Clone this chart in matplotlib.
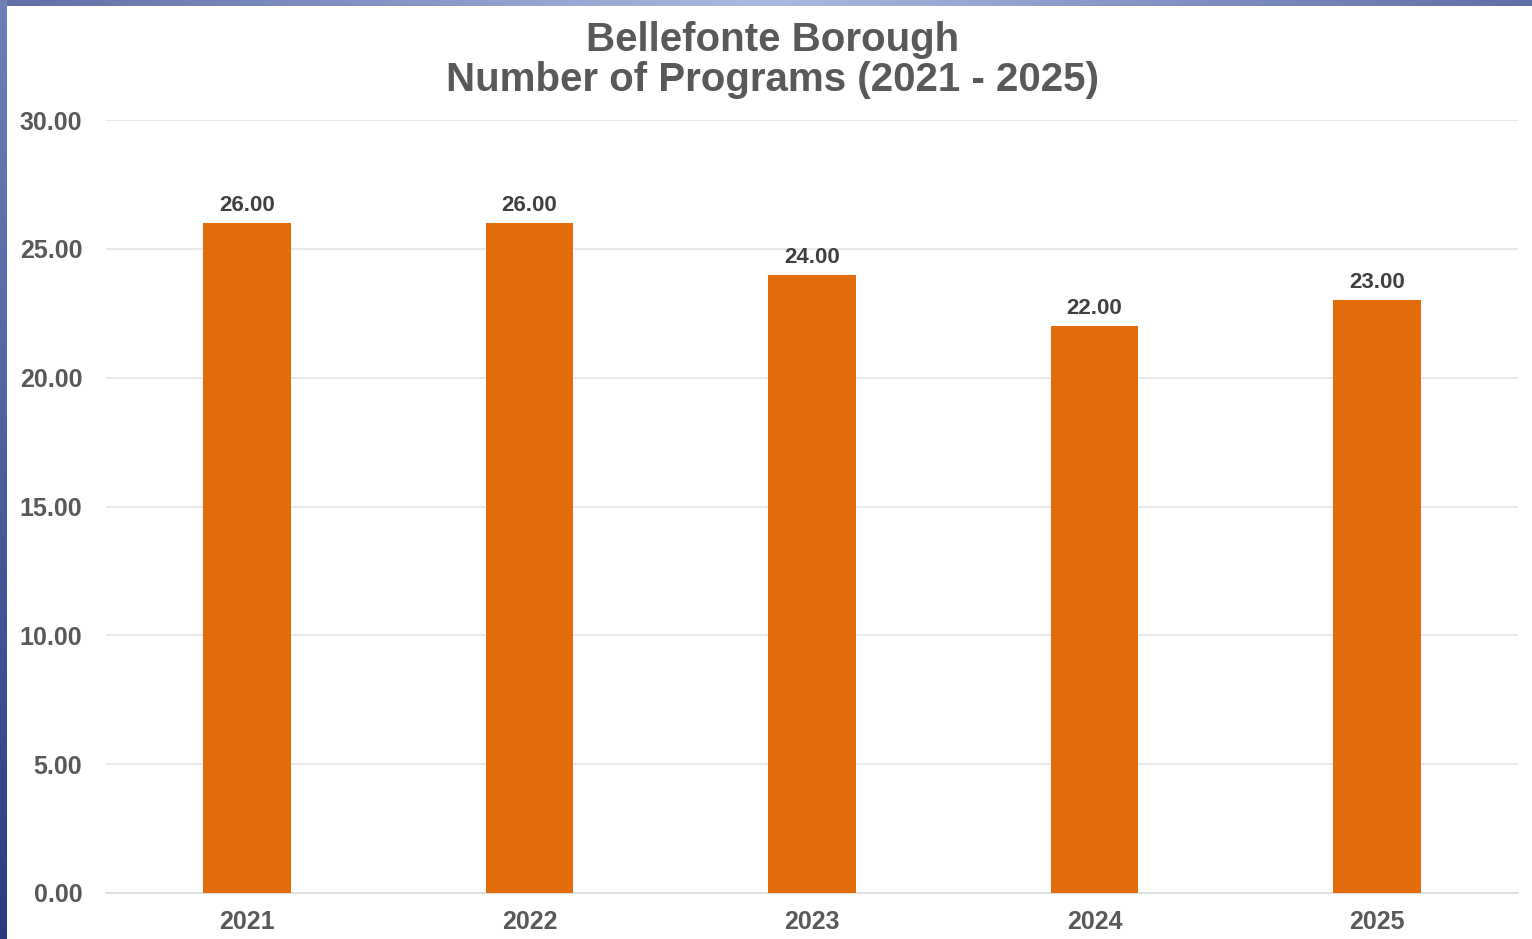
import numpy as np
import matplotlib
matplotlib.use('Agg')
import matplotlib.pyplot as plt
from matplotlib.colors import LinearSegmentedColormap

years = ['2021', '2022', '2023', '2024', '2025']
programs = [26, 26, 24, 22, 23]
yticks = [0, 5, 10, 15, 20, 25, 30]

plt.rcParams['font.family'] = ['Liberation Sans', 'DejaVu Sans']
plt.rcParams['font.weight'] = 'bold'

fig = plt.figure(figsize=(15.32, 9.39), dpi=100)
W, H = 1532, 939

# frame: gradient bars at top and left
top = fig.add_axes([0, 1 - 6 / H, 1, 6 / H])
top_cmap = LinearSegmentedColormap.from_list('top', ['#5f6fa7', '#a9bbe2', '#5f6fa7'])
top.imshow(np.linspace(0, 1, 256)[None, :], aspect='auto', cmap=top_cmap)
top.axis('off')
left = fig.add_axes([0, 0, 7 / W, 1])
left_cmap = LinearSegmentedColormap.from_list('left', ['#6f80b6', '#2b3d7e'])
left.imshow(np.linspace(0, 1, 256)[:, None], aspect='auto', cmap=left_cmap)
left.axis('off')

ax = fig.add_axes([106 / W, (H - 893) / H, (1518 - 106) / W, (893 - 120) / H])
x = np.arange(len(years))
bars = ax.bar(x, programs, width=0.31, color='#e36c0a', zorder=3)
for xi, v in zip(x, programs):
    ax.annotate(f'{v:.2f}', (xi, v), xytext=(0, 5), textcoords='offset points',
                ha='center', va='bottom', fontsize=16, fontweight='bold', color='#404040')

ax.set_xlim(-0.5, len(years) - 0.5)
ax.set_ylim(0, 30)
ax.set_yticks(yticks)
ax.set_yticklabels([f'{t:.2f}' for t in yticks])
ax.set_xticks(x)
ax.set_xticklabels(years)
ax.tick_params(axis='both', length=0, labelsize=18, labelcolor='#595959')
ax.tick_params(axis='y', pad=17)
ax.tick_params(axis='x', pad=12)
ax.grid(axis='y', color='#e3e3e3', linewidth=1.1, zorder=0)
for s in ['top', 'right', 'left']:
    ax.spines[s].set_visible(False)
ax.spines['bottom'].set_color('#dcdcdc')
ax.spines['bottom'].set_linewidth(1.2)

fig.text(773 / W, 1 - 60 / H, 'Bellefonte Borough\nNumber of Programs (2021 - 2025)',
         ha='center', va='center', fontsize=29, fontweight='bold', color='#595959',
         linespacing=1.05)

fig.savefig('out.png', dpi=100)
